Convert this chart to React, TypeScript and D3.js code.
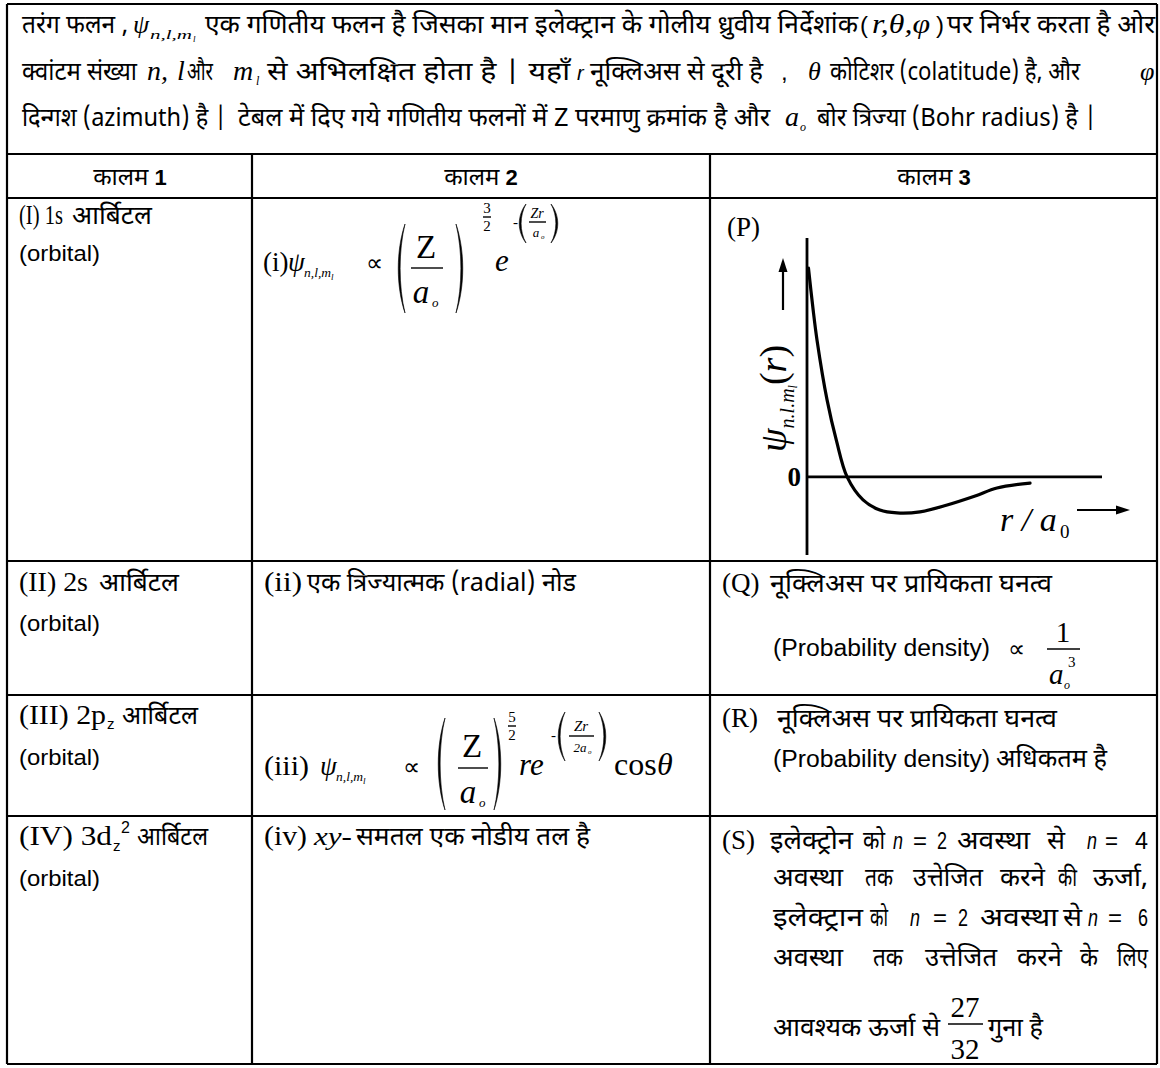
import React from "react";
import * as d3 from "d3";

const DEV = "'Noto Sans Devanagari','Lohit Devanagari','FreeSans','Mangal','Nirmala UI',sans-serif";
const SANS = "'Liberation Sans Narrow','Arial Narrow','Liberation Sans',Arial,sans-serif";
const SERIF = "'Liberation Serif','Times New Roman',serif";

// ---------- data ----------
const introLine1 = [
  "तरंग फलन ,",
  "एक गणितीय फलन है जिसका मान इलेक्ट्रान के गोलीय ध्रुवीय निर्देशांक",
  "पर निर्भर करता है ओर",
];
const introLine2 = [
  "क्वांटम संख्या",
  "और",
  "से अभिलक्षित होता है | यहाँ",
  "नूक्लिअस से दूरी है",
  "कोटिशर (colatitude) है, और",
];
const introLine3 = [
  "दिन्गश (azimuth) है |",
  "टेबल में दिए गये गणितीय फलनों में Z परमाणु क्रमांक है और",
  "बोर त्रिज्या (Bohr radius) है |",
];
const columnHeaders = ["कालम", "कालम", "कालम"];
const columnNumbers = ["1", "2", "3"];
const orbitalRoman = ["(I) 1s", "(II) 2s", "(III) 2p", "(IV) 3d"];
const orbitalWord = "आर्बिटल";
const orbitalEn = "(orbital)";
const col2Row2 = ["(ii)", "एक त्रिज्यात्मक (radial) नोड"];
const col2Row4 = ["(iv)", "xy-", "समतल एक नोडीय तल है"];
const col3Labels = ["(P)", "(Q)", "(R)", "(S)"];
const nucleusDensity = "नूक्लिअस  पर प्रायिकता घनत्व";
const probDensity = "(Probability density)";
const maxText = "अधिकतम है";
const sLine1 = ["इलेक्ट्रोन", "को", "n", "=", "2", "अवस्था", "से", "n", "=", "4"];
const sLine2 = ["अवस्था", "तक", "उत्तेजित", "करने", "की", "ऊर्जा,"];
const sLine3 = ["इलेक्ट्रान", "को", "n", "=", "2", "अवस्था", "से", "n", "=", "6"];
const sLine4 = ["अवस्था", "तक", "उत्तेजित", "करने", "के", "लिए"];
const sLine5 = ["आवश्यक ऊर्जा से", "27", "32", "गुना है"];

// radial wavefunction sketch (r / a0, psi)
const rValues = [0.05, 0.2, 0.34, 0.68, 1.0, 1.36, 1.9, 2.47, 3.05, 3.83, 4.75, 5.7, 6.44, 7.56];
const psiValues = [5.8, 4.7, 3.8, 2.14, 1.0, 0, -0.64, -0.92, -1.0, -0.97, -0.78, -0.53, -0.31, -0.17];

// ---------- helpers ----------
type TP = {
  x: number; y: number; w?: number; size?: number; font?: string;
  italic?: boolean; bold?: boolean; anchor?: "start" | "middle" | "end";
  children: React.ReactNode;
};
function T({ x, y, w, size = 24, font = DEV, italic, bold, anchor, children }: TP) {
  return (
    <text
      x={x}
      y={y}
      fontSize={size}
      fontFamily={font}
      fontStyle={italic ? "italic" : "normal"}
      fontWeight={bold ? "bold" : "normal"}
      textAnchor={anchor}
      textLength={w}
      lengthAdjust={w ? "spacingAndGlyphs" : undefined}
      fill="#000"
    >
      {children}
    </text>
  );
}
const DS = 25; // devanagari body size
function S(x0: number, x1: number, y: number, s: string, size = DS, font = DEV, italic = false) {
  return (
    <T x={x0} y={y} w={x1 - x0} size={size} font={font} italic={italic}>
      {s}
    </T>
  );
}

function Paren({ x, y0, y1, left }: { x: number; y0: number; y1: number; left: boolean }) {
  const h = y1 - y0;
  const d = left ? -1 : 1;
  const b1 = 9 * d;
  const b2 = 6.5 * d;
  const p = `M${x},${y0} C${x + b1},${y0 + h * 0.3} ${x + b1},${y1 - h * 0.3} ${x},${y1} C${x + b2},${y1 - h * 0.3} ${x + b2},${y0 + h * 0.3} ${x},${y0} Z`;
  return <path d={p} fill="#000" stroke="#000" strokeWidth={0.6} />;
}

function Bar({ x0, x1, y }: { x0: number; x1: number; y: number }) {
  return <line x1={x0} x2={x1} y1={y} y2={y} stroke="#000" strokeWidth={1.4} />;
}

export default function App() {
  const W = 1160;
  const H = 1068;

  // table geometry
  const xL = 7, xR = 1157, xC1 = 252, xC2 = 710;
  const rowYs = [4, 154, 198, 561, 695, 816, 1064];

  // graph scales
  const xS = d3.scaleLinear().domain([0, 10]).range([807, 1102]);
  const yS = d3.scaleLinear().domain([-2.17, 6.64]).range([555, 238]);
  const pts: [number, number][] = rValues.map((r, i) => [xS(r), yS(psiValues[i])]);
  const curve = d3.line().curve(d3.curveCatmullRom.alpha(0.5))(pts) || "";

  const sPos1 = [[770, 853], [863, 885], [893, 903], [913, 927], [937, 947], [957, 1030], [1047, 1065], [1087, 1097], [1105, 1118], [1135, 1148]];
  const sPos2 = [[773, 843], [865, 893], [913, 983], [1000, 1045], [1058, 1077], [1093, 1148]];
  const sPos3 = [[773, 863], [870, 888], [910, 920], [933, 947], [958, 968], [980, 1058], [1063, 1082], [1088, 1098], [1108, 1122], [1138, 1148]];
  const sPos4 = [[773, 843], [873, 903], [925, 997], [1017, 1062], [1080, 1098], [1117, 1148]];

  const renderWords = (words: string[], pos: number[][], y: number) =>
    words.map((wd, i) => {
      const isN = wd === "n";
      const isLatin = /^[0-9=n]+$/.test(wd);
      return (
        <T key={i} x={pos[i][0]} y={y} w={pos[i][1] - pos[i][0]} size={isLatin ? 23 : DS}
          font={isLatin ? SANS : DEV} italic={isN}>
          {wd}
        </T>
      );
    });

  const fy = 271; // row I formula baseline

  return (
    <svg width={W} height={H} style={{ position: "absolute", left: 0, top: 0, background: "#fff" }}>
      <rect x={0} y={0} width={W} height={H} fill="#fff" />
      {/* ---------- grid ---------- */}
      <g stroke="#000" strokeWidth={2.2}>
        {rowYs.map((y, i) => (
          <line key={i} x1={xL} x2={xR} y1={y} y2={y} />
        ))}
        <line x1={xL} x2={xL} y1={rowYs[0]} y2={rowYs[6]} />
        <line x1={xR} x2={xR} y1={rowYs[0]} y2={rowYs[6]} />
        <line x1={xC1} x2={xC1} y1={rowYs[1]} y2={rowYs[6]} />
        <line x1={xC2} x2={xC2} y1={rowYs[1]} y2={rowYs[6]} />
      </g>

      {/* ---------- intro paragraph ---------- */}
      {S(22, 128, 33, introLine1[0])}
      <T x={133} y={33} size={26} font={SERIF} italic>ψ</T>
      <T x={150} y={39} w={42} size={13} font={SERIF} italic>n,l,m</T>
      <T x={193} y={42} size={9} font={SERIF} italic>l</T>
      {S(205, 858, 33, introLine1[1])}
      <T x={860} y={33} size={24} font={SANS}>(</T>
      <T x={872} y={33} w={58} size={27} font={SERIF} italic>r,θ,φ</T>
      <T x={936} y={33} size={24} font={SANS}>)</T>
      {S(947, 1155, 33, introLine1[2])}

      {S(22, 137, 80, introLine2[0])}
      <T x={147} y={80} size={28} font={SERIF} italic>n,</T>
      <T x={177} y={80} size={28} font={SERIF} italic>l</T>
      {S(187, 213, 80, introLine2[1])}
      <T x={233} y={80} size={28} font={SERIF} italic>m</T>
      <T x={256} y={85} size={12} font={SERIF} italic>l</T>
      {S(267, 570, 80, introLine2[2])}
      <T x={577} y={80} size={20} font={SANS} italic>r</T>
      {S(590, 763, 80, introLine2[3])}
      <T x={781} y={80} size={24} font={SANS}>,</T>
      <T x={808} y={80} size={26} font={SERIF} italic>θ</T>
      {S(830, 1080, 80, introLine2[4])}
      <T x={1140} y={80} size={26} font={SERIF} italic>φ</T>

      {S(22, 227, 126, introLine3[0])}
      {S(238, 770, 126, introLine3[1])}
      <T x={785} y={126} size={28} font={SERIF} italic>a</T>
      <T x={800} y={131} size={12} font={SERIF} italic>o</T>
      {S(817, 1097, 126, introLine3[2])}

      {/* ---------- header row ---------- */}
      {[130, 481, 934].map((cx, i) => (
        <text key={i} x={cx} y={185} textAnchor="middle" fontSize={24} fill="#000">
          <tspan fontFamily={DEV}>{columnHeaders[i]}</tspan>
          <tspan fontFamily={SANS} fontWeight="bold" fontSize={22}>{"  " + columnNumbers[i]}</tspan>
        </text>
      ))}

      {/* ---------- column 1 ---------- */}
      {S(19, 63, 224, orbitalRoman[0], 27, SERIF)}
      {S(72, 152, 224, orbitalWord)}
      {S(19, 88, 591, orbitalRoman[1], 27, SERIF)}
      {S(99, 179, 591, orbitalWord)}
      {S(19, 106, 724, orbitalRoman[2], 27, SERIF)}
      <T x={107} y={729} size={15} font={SANS}>z</T>
      {S(122, 198, 724, orbitalWord)}
      {S(19, 112, 845, orbitalRoman[3], 27, SERIF)}
      <T x={113} y={851} size={15} font={SANS}>z</T>
      <T x={121} y={833} size={16} font={SANS}>2</T>
      {S(137, 208, 845, orbitalWord)}
      {[261, 631, 765, 886].map((y, i) => (
        <React.Fragment key={i}>{S(19, 100, y, orbitalEn, 22, SANS)}</React.Fragment>
      ))}

      {/* ---------- column 2 ---------- */}
      {/* (i) */}
      <T x={263} y={fy} size={27} font={SERIF}>(i)</T>
      <T x={288} y={fy} size={27} font={SERIF} italic>ψ</T>
      <T x={304} y={fy + 6} w={27} size={13} font={SERIF} italic>n,l,m</T>
      <T x={331} y={fy + 9} size={9} font={SERIF} italic>l</T>
      <T x={366} y={fy} size={24} font={SERIF}>∝</T>
      <Paren x={405} y0={224} y1={313} left />
      <T x={426} y={258} size={33} font={SERIF} anchor="middle">Z</T>
      <Bar x0={411} x1={443} y={268} />
      <T x={421} y={303} size={33} font={SERIF} italic anchor="middle">a</T>
      <T x={432} y={307} size={13} font={SERIF} italic>o</T>
      <Paren x={456} y0={224} y1={313} left={false} />
      <T x={487} y={213} size={15} font={SERIF} anchor="middle">3</T>
      <Bar x0={483} x1={491} y={217} />
      <T x={487} y={231} size={15} font={SERIF} anchor="middle">2</T>
      <T x={495} y={fy} size={31} font={SERIF} italic>e</T>
      <T x={513} y={227} size={15} font={SERIF}>-</T>
      <Paren x={526} y0={204} y1={243} left />
      <T x={537} y={218} size={14} font={SERIF} italic anchor="middle">Zr</T>
      <Bar x0={529} x1={546} y={222} />
      <T x={536} y={237} size={13} font={SERIF} italic anchor="middle">a</T>
      <T x={541} y={239} size={7} font={SERIF} italic>o</T>
      <Paren x={551} y0={204} y1={243} left={false} />

      {/* (ii) */}
      {S(264, 302, 591, col2Row2[0], 27, SERIF)}
      {S(307, 576, 591, col2Row2[1])}

      {/* (iii) */}
      {S(264, 309, 775, "(iii)", 28, SERIF)}
      <T x={320} y={775} size={27} font={SERIF} italic>ψ</T>
      <T x={336} y={781} w={27} size={13} font={SERIF} italic>n,l,m</T>
      <T x={363} y={784} size={9} font={SERIF} italic>l</T>
      <T x={403} y={775} size={24} font={SERIF}>∝</T>
      <Paren x={445} y0={718} y1={810} left />
      <T x={472} y={757} size={33} font={SERIF} anchor="middle">Z</T>
      <Bar x0={458} x1={488} y={768} />
      <T x={468} y={803} size={33} font={SERIF} italic anchor="middle">a</T>
      <T x={479} y={807} size={13} font={SERIF} italic>o</T>
      <Paren x={494} y0={718} y1={810} left={false} />
      <T x={512} y={722} size={15} font={SERIF} anchor="middle">5</T>
      <Bar x0={508} x1={516} y={726} />
      <T x={512} y={740} size={15} font={SERIF} anchor="middle">2</T>
      <T x={519} y={775} size={31} font={SERIF} italic>re</T>
      <T x={551} y={740} size={15} font={SERIF}>-</T>
      <Paren x={565} y0={712} y1={761} left />
      <T x={581} y={731} size={15} font={SERIF} italic anchor="middle">Zr</T>
      <Bar x0={569} x1={594} y={736} />
      <T x={580} y={752} size={13} font={SERIF} italic anchor="middle">2a</T>
      <T x={588} y={754} size={7} font={SERIF} italic>o</T>
      <Paren x={599} y0={712} y1={761} left={false} />
      <T x={614} y={775} size={32} font={SERIF}>cos</T>
      <T x={657} y={775} size={32} font={SERIF} italic>θ</T>

      {/* (iv) */}
      {S(264, 307, 845, col2Row4[0], 27, SERIF)}
      {S(314, 352, 845, col2Row4[1], 25, SERIF, true)}
      {S(356, 590, 845, col2Row4[2])}

      {/* ---------- column 3 ---------- */}
      <T x={727} y={236} size={27} font={SERIF}>{col3Labels[0]}</T>
      {/* graph */}
      <g stroke="#000" fill="none">
        <line x1={xS(0)} x2={xS(0)} y1={yS(6.64)} y2={yS(-2.17)} strokeWidth={2.8} />
        <line x1={xS(0)} x2={xS(10)} y1={yS(0)} y2={yS(0)} strokeWidth={2.8} />
        <path d={curve} strokeWidth={3.2} strokeLinecap="round" />
        <line x1={783} x2={783} y1={310} y2={268} strokeWidth={2.2} />
        <line x1={1077} x2={1120} y1={510} y2={510} strokeWidth={2.2} />
      </g>
      <path d="M783,258 L778.5,272 L787.5,272 Z" fill="#000" />
      <path d="M1130,510 L1116,505.5 L1116,514.5 Z" fill="#000" />
      <T x={xS(0) - 6} y={yS(0) + 9} size={27} font={SERIF} bold anchor="end">0</T>
      <g transform="translate(786,452) rotate(-90)">
        <text fontFamily={SERIF} fill="#000">
          <tspan fontSize={38} fontStyle="italic">ψ</tspan>
          <tspan fontSize={20} fontStyle="italic" dy={8}>n.l.m</tspan>
          <tspan fontSize={12} fontStyle="italic" dy={3}>l</tspan>
          <tspan fontSize={38} dy={-11}>(</tspan>
          <tspan fontSize={38} fontStyle="italic">r</tspan>
          <tspan fontSize={38}>)</tspan>
        </text>
      </g>
      <T x={1000} y={531} size={34} font={SERIF} italic>r / a</T>
      <T x={1060} y={538} size={19} font={SERIF}>0</T>

      {/* (Q) */}
      <T x={722} y={592} size={27} font={SERIF}>{col3Labels[1]}</T>
      {S(770, 1052, 592, nucleusDensity)}
      {S(773, 990, 656, probDensity, 23, SANS)}
      <T x={1008} y={657} size={24} font={SERIF}>∝</T>
      <T x={1063} y={642} size={29} font={SERIF} anchor="middle">1</T>
      <Bar x0={1047} x1={1080} y={649} />
      <T x={1049} y={684} size={29} font={SERIF} italic>a</T>
      <T x={1064} y={689} size={12} font={SERIF} italic>o</T>
      <T x={1068} y={667} size={15} font={SERIF}>3</T>

      {/* (R) */}
      <T x={722} y={727} size={27} font={SERIF}>{col3Labels[2]}</T>
      {S(777, 1057, 727, nucleusDensity)}
      {S(773, 990, 767, probDensity, 23, SANS)}
      {S(996, 1107, 767, maxText)}

      {/* (S) */}
      <T x={722} y={849} size={27} font={SERIF}>{col3Labels[3]}</T>
      {renderWords(sLine1, sPos1, 849)}
      {renderWords(sLine2, sPos2, 886)}
      {renderWords(sLine3, sPos3, 926)}
      {renderWords(sLine4, sPos4, 966)}
      {S(773, 940, 1036, sLine5[0])}
      <T x={965} y={1017} size={29} font={SERIF} anchor="middle">{sLine5[1]}</T>
      <Bar x0={948} x1={983} y={1024} />
      <T x={965} y={1059} size={29} font={SERIF} anchor="middle">{sLine5[2]}</T>
      {S(988, 1043, 1036, sLine5[3])}
    </svg>
  );
}
